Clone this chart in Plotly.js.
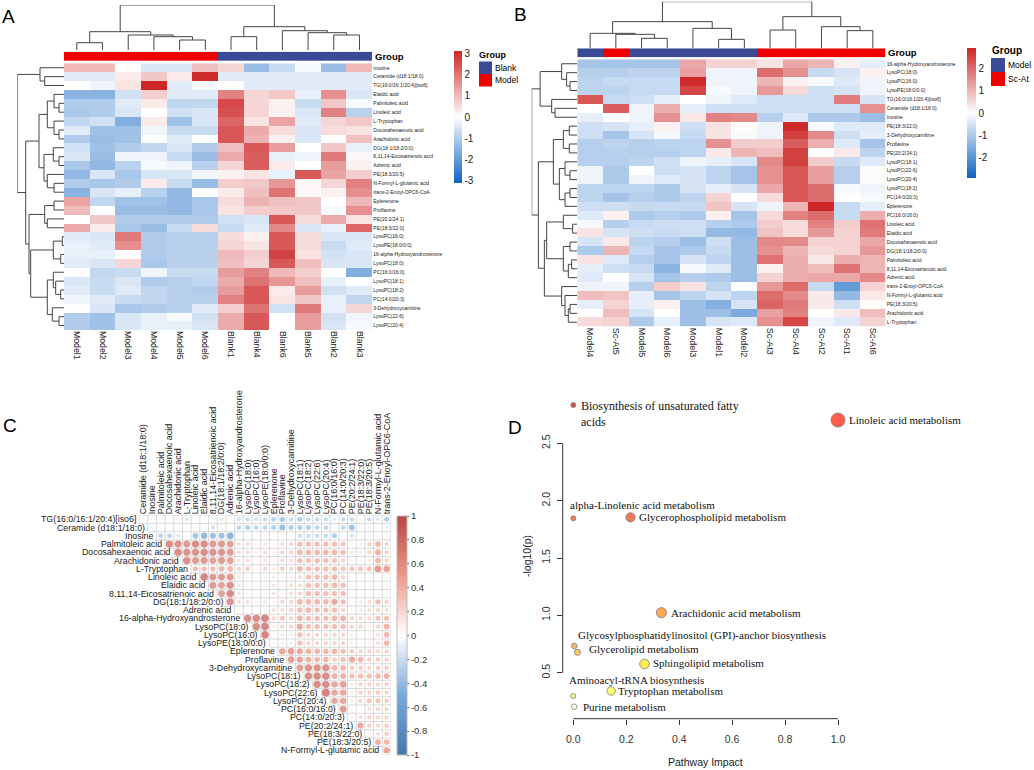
<!DOCTYPE html>
<html><head><meta charset="utf-8">
<script src="https://cdn.plot.ly/plotly-3.0.1.min.js"></script>
<style>html,body{margin:0;padding:0;background:#fff}#chart{width:1034px;height:770px}</style>
</head><body><div id="chart"></div>
<script>
// ================= DATA =================
// ---- Panel A : Blank vs Model heatmap ----
const aSamples = ['Model1','Model2','Model3','Model4','Model5','Model6','Blank1','Blank4','Blank6','Blank5','Blank2','Blank3'];
const aSampleGroups = ['Model','Model','Model','Model','Model','Model','Blank','Blank','Blank','Blank','Blank','Blank'];
const aGroupLevels = ['Blank','Model'];
const aMetabolites = ['Inosine','Ceramide (d18:1/18:0)','TG(16:0/16:1/20:4)[iso6]','Elaidic acid','Palmitoleic acid','Linoleic acid','L-Tryptophan','Docosahexaenoic acid','Arachidonic acid','DG(18:1/18:2/0:0)','8,11,14-Eicosatrienoic acid','Adrenic acid','PE(18:3/20:5)','N-Formyl-L-glutamic acid','trans-2-Enoyl-OPC6-CoA','Eplerenone','Proflavine','PE(20:2/24:1)','PE(18:3/22:0)','LysoPC(16:0)','LysoPE(18:0/0:0)','16-alpha-Hydroxyandrosterone','LysoPC(18:0)','PC(16:0/16:0)','LysoPC(18:1)','LysoPC(18:2)','PC(14:0/20:3)','3-Dehydroxycarnitine','LysoPC(22:6)','LysoPC(20:4)'];
const aValues = [
 [1.0,1.0,0.05,-0.5,-0.5,0.9,0.6,-1.3,-0.7,-0.1,-1.3,1.0],
 [-0.4,-0.4,0.3,0.8,0.3,3.0,-0.4,-0.4,-0.4,-0.4,-0.4,-0.4],
 [0.0,-0.2,0.4,3.2,-0.4,-0.1,0.0,-0.4,-0.4,-0.4,-0.4,-0.4],
 [-1.5,-1.5,-0.6,0.7,-0.4,-0.4,1.8,0.6,0.8,-0.3,1.6,-0.5],
 [-1.0,-1.0,-0.4,0.3,-0.8,-0.8,2.6,0.6,0.2,-0.7,0.8,-0.1],
 [-1.1,-1.0,-0.5,0.0,-0.6,-0.5,2.5,0.6,0.2,-0.5,1.8,-0.9],
 [-0.8,-0.6,-1.6,0.3,-1.2,-0.5,2.2,0.4,1.3,-0.4,0.6,0.8],
 [-0.4,-1.2,-1.2,-0.2,-0.7,-0.7,2.4,1.2,0.5,-0.5,0.5,0.4],
 [-1.0,-1.3,-1.2,0.0,-0.4,0.0,2.4,1.1,0.2,-0.5,0.0,0.9],
 [-0.6,-1.2,-1.0,-0.8,-0.5,-1.0,0.9,2.4,1.4,0.0,0.8,-0.3],
 [-0.5,-1.3,-0.2,-0.2,-0.7,-1.3,1.2,2.3,-0.3,-0.2,1.9,0.1],
 [-1.1,-1.4,-0.9,-0.1,-0.2,-0.9,0.6,2.3,0.3,0.0,1.4,0.2],
 [-1.4,-0.5,-1.1,-0.5,-0.5,-0.2,0.2,0.4,-0.3,2.4,1.3,0.7],
 [-1.0,-1.1,-1.0,0.3,-0.7,-1.3,0.7,0.8,1.5,0.1,0.6,1.8],
 [-1.5,-0.5,-0.3,-0.9,-1.4,0.0,0.3,0.9,2.0,0.1,0.2,1.6],
 [1.3,-0.8,-1.2,-1.2,-1.4,-1.1,0.5,1.1,0.9,0.8,0.0,1.0],
 [1.0,0.0,-1.3,-1.3,-1.4,-1.1,0.4,0.7,0.8,0.8,-0.1,1.6],
 [0.0,0.8,-1.0,-1.0,-1.0,-1.0,-0.6,-0.5,2.4,0.5,1.2,0.4],
 [1.2,0.3,-1.1,-1.3,-0.7,0.5,-0.7,-0.4,1.7,-0.5,-0.3,2.2],
 [-0.4,-0.5,1.9,-1.0,-0.9,-0.9,0.5,0.2,2.4,0.5,-0.5,-0.5],
 [-0.3,-0.4,1.6,-1.0,-0.9,-0.9,0.6,0.4,2.4,0.5,-0.7,-0.4],
 [-0.3,-0.3,0.0,-1.0,-0.9,-0.9,1.0,0.7,2.7,0.4,-0.6,-0.5],
 [-0.4,-0.5,0.6,-1.1,-0.9,-0.9,0.9,0.6,2.4,0.9,-0.5,-0.5],
 [0.05,-0.8,-0.7,-0.2,-0.7,-0.7,1.4,1.8,1.0,0.7,0.0,-1.6],
 [-0.5,-0.7,-0.5,-1.0,-0.9,-0.8,1.2,2.0,1.5,0.9,-0.3,0.0],
 [-0.4,-0.7,-0.4,-0.8,-0.9,-1.0,1.4,2.4,0.3,1.4,-0.6,-0.4],
 [-0.2,-0.4,-0.7,-0.8,-0.9,-0.9,1.8,2.4,0.4,0.8,-0.3,-0.8],
 [0.05,-0.5,-1.1,-1.0,-0.9,-0.4,0.7,2.0,-0.6,1.9,-0.3,0.6],
 [-1.0,-1.2,-0.5,-0.3,-0.1,-0.6,1.2,2.4,0.0,1.4,-0.6,-0.2],
 [-1.0,-1.2,-0.5,-0.3,-0.3,-0.5,1.2,2.4,0.0,1.4,-0.5,-0.1]
];
// dendrograms: node = leaf index | [left, right, mergeHeight]
const aColTree = [[[0,1,7.3],[2,[3,[4,5,10],13.3],15],18.3],[[6,7,13.3],[8,[9,[10,11,15],17.3],19.3],23.3],45];
const aRowTree = [[0,[1,2,19.3],24],
  [[[[3,[4,5,5],10],[6,[7,8,5],10],16.7],[[9,[10,11,5],10.7],[12,[13,14,10],16.7],20],25],
   [[[15,16,10],[17,18,16.7],19.3],[[[19,20,1.7],[21,22,3.3],10.7],[[23,[24,[25,26,3.3],8.3],10.7],[27,[28,29,5],11.7],16.7],33.3],35],38.3],46.7];

// ---- Panel B : Model vs Sc-At heatmap ----
const bSamples = ['Model4','Sc-At5','Model5','Model6','Model3','Model1','Model2','Sc-At3','Sc-At4','Sc-At2','Sc-At1','Sc-At6'];
const bSampleGroups = ['Model','Sc-At','Model','Model','Model','Model','Model','Sc-At','Sc-At','Sc-At','Sc-At','Sc-At'];
const bGroupLevels = ['Model','Sc-At'];
const bMetabolites = ['16-alpha-Hydroxyandrosterone','LysoPC(18:0)','LysoPC(16:0)','LysoPE(18:0/0:0)','TG(16:0/16:1/20:4)[iso6]','Ceramide (d18:1/18:0)','Inosine','PE(18:3/22:0)','3-Dehydroxycarnitine','Proflavine','PE(20:2/24:1)','LysoPC(18:1)','LysoPC(22:6)','LysoPC(20:4)','LysoPC(18:2)','PC(14:0/20:3)','Eplerenone','PC(16:0/16:0)','Linoleic acid','Elaidic acid','Docosahexaenoic acid','DG(18:1/18:2/0:0)','Palmitoleic acid','8,11,14-Eicosatrienoic acid','Adrenic acid','trans-2-Enoyl-OPC6-CoA','N-Formyl-L-glutamic acid','PE(18:3/20:5)','Arachidonic acid','L-Tryptophan'];
const bValues = [
 [-1.1,-1.1,-1.1,-1.1,1.2,0.6,0.6,0.4,1.2,1.0,0.2,-0.3],
 [-0.9,-0.9,-0.8,-0.8,1.3,-0.2,-0.2,2.0,1.5,-0.7,-0.5,0.2],
 [-0.8,-0.7,-0.7,-0.7,2.9,-0.2,-0.2,1.0,0.2,-0.1,-0.4,-0.2],
 [-0.8,-0.8,-0.7,-0.7,2.5,-0.1,-0.2,1.4,0.5,-0.6,-0.5,-0.2],
 [2.3,-0.7,-0.6,-0.3,0.0,-0.2,-0.4,-0.6,-0.6,-0.6,1.8,-0.5],
 [0.0,2.2,-0.2,1.1,-0.3,-0.6,-0.6,-0.6,-0.6,-0.6,-0.6,1.5],
 [-0.3,0.0,-0.2,1.5,0.3,1.7,1.6,-0.9,-0.4,-1.0,-1.0,-1.2],
 [-0.6,-0.5,-0.3,0.2,-0.6,0.4,0.05,-0.2,2.9,-0.1,-0.4,-0.4],
 [-0.6,-1.1,-0.5,-0.1,-0.7,0.4,-0.1,-0.2,2.6,1.6,-0.6,-0.3],
 [-0.9,-0.8,-0.9,-0.8,-0.8,1.5,0.7,0.7,2.2,1.1,-0.4,-1.1],
 [-0.9,-0.9,-0.9,-0.9,-0.8,0.3,1.0,0.9,2.6,0.0,0.3,-0.8],
 [-0.9,-0.9,-0.8,-0.6,-0.2,-0.3,-0.5,1.6,2.6,0.7,-0.7,-0.4],
 [-0.2,-1.0,0.0,-0.6,-0.5,-0.8,-1.1,1.5,2.3,1.3,-0.9,0.05],
 [-0.2,-1.0,-0.2,-0.4,-0.5,-0.8,-1.1,1.5,2.3,1.3,-0.9,0.05],
 [-0.8,-0.8,-0.8,-1.0,-0.5,-0.3,-0.5,1.2,2.3,2.0,-0.1,-0.2],
 [-0.8,-1.1,-0.9,-1.0,-0.8,0.6,0.0,0.5,2.3,2.0,0.0,-0.1],
 [-0.6,-0.6,-0.7,-0.7,-0.7,0.8,-0.5,-0.2,1.0,3.0,-0.7,-0.3],
 [-0.4,0.2,-1.0,-0.9,-1.0,0.2,-1.1,0.5,1.7,2.0,-0.7,1.1],
 [-0.1,-0.9,-0.7,-0.6,-0.6,-0.9,-1.0,0.7,0.5,1.7,0.7,1.9],
 [0.4,-0.5,-0.6,-0.7,-0.6,-1.3,-1.3,0.8,0.5,1.4,0.6,1.8],
 [-0.5,0.3,-0.8,-0.9,-1.2,-0.6,-1.2,1.6,1.6,0.6,0.6,1.2],
 [-1.0,1.0,-0.7,-1.1,-1.0,-0.7,-1.2,1.5,1.0,0.5,0.6,1.4],
 [0.4,-0.4,-0.9,-1.1,-0.5,-0.8,-1.2,1.9,1.1,0.3,1.1,1.0],
 [-0.3,-0.6,-0.7,-1.4,-0.1,-0.4,-1.2,0.2,1.1,0.9,1.9,1.0],
 [-0.4,0.0,-0.5,-1.1,-0.9,-1.0,-1.2,0.6,1.1,1.2,1.2,1.6],
 [-0.2,-0.2,-0.9,0.7,0.4,-0.8,0.0,1.4,2.0,-0.7,-1.9,0.6],
 [0.9,0.8,-0.3,-1.1,-0.8,-0.5,-0.8,2.0,1.6,0.3,-1.3,0.3],
 [-0.3,0.6,-0.3,0.2,-1.2,-1.5,-0.5,2.1,1.8,0.3,-0.6,0.05],
 [0.0,0.9,-0.5,0.0,-1.2,-1.2,-1.6,1.3,1.7,0.0,0.3,0.9],
 [0.5,0.6,-1.0,-0.3,-1.2,-0.5,-0.4,1.5,2.5,-0.2,-0.4,0.6]
];
const bColTree = [[[0,[1,[2,3,10],14],15],[4,[5,6,9],20],26.7],[[7,8,18.3],[9,[10,11,17.7],21.7],31.7],46.7];
const bRowTree = [[[0,[1,[2,3,7.3],10.7],15.7],[4,[5,6,22.3],25.7],37.3],
  [[[[7,8,8],[9,10,8],14],[[11,[12,13,7.3],12.3],[[14,15,7.3],16,12.3],18],24],
   [[[17,[18,19,4.7],14],[[20,21,7.3],[[22,23,5.7],24,9],14],30.7],[25,[26,[[27,28,7.3],29,9],12.3],15.7],33],39],45.7];

// ---- Panel C : correlation matrix (upper triangle, row i vs variables i+1..29) ----
const cVariables = ['TG(16:0/16:1/20:4)[iso6]','Ceramide (d18:1/18:0)','Inosine','Palmitoleic acid','Docosahexaenoic acid','Arachidonic acid','L-Tryptophan','Linoleic acid','Elaidic acid','8,11,14-Eicosatrienoic acid','DG(18:1/18:2/0:0)','Adrenic acid','16-alpha-Hydroxyandrosterone','LysoPC(18:0)','LysoPC(16:0)','LysoPE(18:0/0:0)','Eplerenone','Proflavine','3-Dehydroxycarnitine','LysoPC(18:1)','LysoPC(18:2)','LysoPC(22:6)','LysoPC(20:4)','PC(16:0/16:0)','PC(14:0/20:3)','PE(20:2/24:1)','PE(18:3/22:0)','PE(18:3/20:5)','N-Formyl-L-glutamic acid','trans-2-Enoyl-OPC6-CoA'];
const corrRows = [
 [0.05,0.05,0.1,0.05,0.1,-0.2,0.05,0.05,0.05,-0.2,0.05,-0.25,-0.3,-0.25,-0.3,-0.35,-0.45,-0.3,-0.4,-0.3,-0.3,-0.3,-0.2,-0.3,-0.3,0.05,-0.3,-0.2,-0.4],
 [-0.1,0.05,0.05,0.05,0.05,0.05,0.05,-0.25,0.05,0.05,-0.35,-0.4,-0.35,-0.35,-0.4,-0.55,-0.4,-0.4,-0.4,-0.35,-0.35,0.05,-0.35,-0.5,0.05,-0.1,0.05,-0.1],
 [-0.35,-0.35,-0.2,-0.1,-0.5,-0.65,-0.55,-0.55,-0.7,0.05,0.05,0.05,0.05,0.05,0.1,0.05,-0.3,-0.3,-0.3,-0.3,-0.4,0.05,-0.25,0.05,-0.1,-0.1,0.05],
 [0.85,0.8,0.75,0.85,0.85,0.75,0.75,0.7,0.25,0.25,0.1,0.2,0.1,0.25,0.3,0.45,0.45,0.45,0.45,0.45,0.4,0.1,0.15,0.3,0.5,0.3],
 [0.85,0.8,0.8,0.85,0.8,0.8,0.75,0.25,0.25,0.15,0.25,0.1,0.3,0.3,0.5,0.5,0.5,0.5,0.5,0.45,0.2,0.15,0.3,0.55,0.3],
 [0.85,0.75,0.75,0.7,0.75,0.7,0.2,0.25,0.1,0.2,0.1,0.25,0.25,0.45,0.45,0.45,0.45,0.4,0.3,0.1,0.1,0.15,0.5,0.3],
 [0.45,0.45,0.45,0.5,0.5,0.3,0.35,0.1,0.3,0.15,0.35,0.3,0.5,0.45,0.45,0.45,0.45,0.4,0.4,0.4,0.4,0.75,0.65],
 [0.9,0.75,0.75,0.75,0.2,0.1,0.05,0.1,0.2,0.1,0.15,0.25,0.45,0.45,0.45,0.5,0.3,0.05,0.05,0.05,0.05,0.05],
 [0.75,0.7,0.8,0.2,0.1,0.05,0.1,0.2,0.1,0.25,0.25,0.45,0.45,0.45,0.5,0.45,0.05,0.05,0.05,0.05,0.05],
 [0.7,0.85,0.2,0.1,0.05,0.1,0.2,0.1,0.25,0.3,0.45,0.45,0.45,0.45,0.45,0.05,0.05,0.05,0.05,0.05],
 [0.8,0.25,0.25,0.1,0.2,0.1,0.3,0.3,0.5,0.5,0.5,0.5,0.6,0.45,0.1,0.2,0.25,0.45,0.3],
 [0.1,0.1,0.05,0.1,0.25,0.25,0.3,0.45,0.5,0.45,0.45,0.45,0.3,0.1,0.2,0.25,0.3,0.25],
 [0.85,0.85,0.9,0.3,0.4,0.3,0.5,0.45,0.45,0.45,0.5,0.55,0.3,0.25,0.25,0.4,0.45],
 [0.85,0.9,0.15,0.3,0.3,0.6,0.45,0.45,0.45,0.45,0.45,0.3,0.3,0.1,0.3,0.55],
 [0.9,0.1,0.15,0.15,0.45,0.3,0.3,0.3,0.3,0.3,0.15,0.1,0.1,0.25,0.5],
 [0.1,0.15,0.15,0.45,0.3,0.3,0.3,0.3,0.3,0.15,0.1,0.1,0.25,0.5],
 [0.65,0.7,0.6,0.55,0.5,0.5,0.5,0.45,0.35,0.3,0.3,0.3,0.3],
 [0.7,0.65,0.55,0.5,0.5,0.35,0.45,0.6,0.5,0.35,0.35,0.3],
 [0.7,0.8,0.8,0.8,0.5,0.5,0.35,0.35,0.3,0.35,0.35],
 [0.85,0.85,0.85,0.55,0.55,0.45,0.45,0.45,0.5,0.55],
 [0.85,0.85,0.65,0.7,0.15,0.3,0.3,0.3,0.3],
 [0.95,0.65,0.65,0.15,0.3,0.3,0.35,0.3],
 [0.65,0.65,0.15,0.3,0.4,0.4,0.35],
 [0.75,0.1,0.05,0.25,0.3,0.3],
 [0.1,0.25,0.3,0.3,0.3],
 [0.6,0.3,0.3,0.35],
 [0.1,0.25,0.35],
 [0.55,0.5],
 [0.65]
];

// ---- Panel D : pathway analysis ----
const dPathways = ['Biosynthesis of unsaturated fatty<br>acids','Linoleic acid metabolism','alpha-Linolenic acid metabolism','Glycerophospholipid metabolism','Arachidonic acid metabolism','Glycosylphosphatidylinositol (GPI)-anchor biosynthesis','Glycerolipid metabolism','Sphingolipid metabolism','Aminoacyl-tRNA biosynthesis','Tryptophan metabolism','Purine metabolism'];
const dImpact = [0.0, 1.0, 0.0, 0.216, 0.333, 0.004, 0.016, 0.269, 0.0, 0.143, 0.003];
const dNegLogP = [2.834, 2.703, 1.846, 1.855, 1.023, 0.733, 0.678, 0.576, 0.297, 0.341, 0.204];
const dXTicks = [0, 0.2, 0.4, 0.6, 0.8, 1.0];
const dYTicks = [0.5, 1.0, 1.5, 2.0, 2.5];

// ================= DRAWING =================
const W = 1034, H = 770;
const px = v => v / W;
const py = v => 1 - v / H;
const xd = (a, b) => [a / W, b / W];
const yd = (top, bottom) => [1 - bottom / H, 1 - top / H];
const idx = n => Array.from({length: n}, (_, i) => i);
const SANS = 'Liberation Sans, Arial, sans-serif';
const SERIF = 'Liberation Serif, Times New Roman, serif';

function dendro(tree) {
  const leaf = [], height = [];
  (function walk(n) {
    if (typeof n === 'number') return {p: n, h: 0};
    const l = walk(n[0]), r = walk(n[1]), h = n[2];
    leaf.push(l.p, l.p, r.p, r.p, null);
    height.push(l.h, h, h, r.h, null);
    return {p: (l.p + r.p) / 2, h: h};
  })(tree);
  return {leaf, height};
}

const BLUE_G = '#3A4A96', RED_G = '#EE0000';
const hmScale = [[0, '#0D62C2'], [0.5, '#FFFFFF'], [1, '#CD2626']];
const dendroLine = {color: '#444', width: 1};

function heatPanel(o) {
  const traces = [];
  traces.push({type: 'heatmap', x: idx(o.samples.length), y: idx(o.metabolites.length), z: o.values,
    xaxis: o.xa, yaxis: o.ya, colorscale: hmScale, zmin: -o.zlim, zmax: o.zlim, hoverinfo: 'skip',
    colorbar: {x: px(o.cb[0]), xanchor: 'left', y: py(o.cb[1]), yanchor: 'top', len: o.cb[2], lenmode: 'pixels',
      thickness: o.cb[3], thicknessmode: 'pixels', outlinewidth: 0, xpad: 0, ypad: 0, ticks: '',
      tickvals: o.cbTicks, ticktext: o.cbTicks.map(String), tickfont: {family: SANS, size: 10, color: '#222'}}});
  traces.push({type: 'heatmap', x: idx(o.samples.length), y: [0],
    z: [o.groups.map(g => o.levels.indexOf(g))], xaxis: o.xa, yaxis: o.yg,
    colorscale: [[0, o.levelColors[0]], [0.5, o.levelColors[0]], [0.5, o.levelColors[1]], [1, o.levelColors[1]]],
    zmin: 0, zmax: 1, showscale: false, hoverinfo: 'skip'});
  const cd = dendro(o.colTree);
  traces.push({type: 'scatter', mode: 'lines', x: cd.leaf, y: cd.height, xaxis: o.xa, yaxis: o.yd,
    line: dendroLine, hoverinfo: 'skip', connectgaps: false});
  const rd = dendro(o.rowTree);
  traces.push({type: 'scatter', mode: 'lines', x: rd.height, y: rd.leaf, xaxis: o.xr, yaxis: o.ya,
    line: dendroLine, hoverinfo: 'skip', connectgaps: false});
  return traces;
}

const traces = [];
traces.push(...heatPanel({samples: aSamples, metabolites: aMetabolites, values: aValues, groups: aSampleGroups,
  levels: aGroupLevels, levelColors: [BLUE_G, RED_G], colTree: aColTree, rowTree: aRowTree,
  xa: 'x', ya: 'y', yg: 'y2', yd: 'y3', xr: 'x2', zlim: 3.1, cb: [454, 51, 132, 8], cbTicks: [3, 2, 1, 0, -1, -2, -3]}));
traces.push(...heatPanel({samples: bSamples, metabolites: bMetabolites, values: bValues, groups: bSampleGroups,
  levels: bGroupLevels, levelColors: [BLUE_G, RED_G], colTree: bColTree, rowTree: bRowTree,
  xa: 'x3', ya: 'y4', yg: 'y5', yd: 'y6', xr: 'x4', zlim: 2.95, cb: [967, 48, 130, 9], cbTicks: [2, 1, 0, -1, -2]}));

// ---- Panel C ----
const nC = cVariables.length - 1;  // 29 rows / 29 columns
const gx = [], gy = [];
for (let k = 0; k <= nC; k++) {            // vertical boundaries
  gx.push(k - 0.5, k - 0.5, null); gy.push(-0.5, Math.min(k, nC - 1) + 0.5, null);
}
for (let i = 0; i <= nC; i++) {            // horizontal boundaries
  gx.push(Math.max(i - 1, 0) - 0.5, nC - 0.5, null); gy.push(i - 0.5, i - 0.5, null);
}
traces.push({type: 'scatter', mode: 'lines', x: gx, y: gy, xaxis: 'x5', yaxis: 'y7',
  line: {color: '#D9D9D9', width: 1}, hoverinfo: 'skip'});
const cx = [], cy = [], cr = [];
corrRows.forEach((row, i) => row.forEach((r, k) => { cx.push(i + k); cy.push(i); cr.push(r); }));
traces.push({type: 'scatter', mode: 'markers', x: cx, y: cy, xaxis: 'x5', yaxis: 'y7', hoverinfo: 'skip',
  marker: {size: cr.map(r => 8 * Math.sqrt(Math.abs(r))), color: cr, cmin: -1, cmax: 1,
    colorscale: [[0, '#4477AA'], [0.25, '#77AADD'], [0.5, '#FFFFFF'], [0.75, '#EE9988'], [1, '#BB4444']],
    line: {width: 0}, showscale: true,
    colorbar: {x: px(397), xanchor: 'left', y: py(516), yanchor: 'top', len: 239, lenmode: 'pixels',
      thickness: 10, thicknessmode: 'pixels', outlinewidth: 1, outlinecolor: '#BBBBBB', xpad: 0, ypad: 0,
      ticks: 'outside', ticklen: 2, tickcolor: '#666',
      tickvals: [1, 0.8, 0.6, 0.4, 0.2, 0, -0.2, -0.4, -0.6, -0.8, -1],
      ticktext: ['1', '0.8', '0.6', '0.4', '0.2', '0', '-0.2', '-0.4', '-0.6', '-0.8', '-1'],
      tickfont: {family: SANS, size: 9.5, color: '#333'}}}});

// ---- Panel D ----
traces.push({type: 'scatter', mode: 'markers', x: dImpact, y: dNegLogP, xaxis: 'x6', yaxis: 'y8', cliponaxis: false,
  hoverinfo: 'skip',
  marker: {size: dImpact.map(v => 5 + 9 * Math.sqrt(v)), color: dNegLogP, cmin: 0.2, cmax: 2.84,
    colorscale: [[0, '#FFFFE0'], [0.053, '#FFFF33'], [0.14, '#FFE800'], [0.18, '#F8B428'], [0.2, '#F5A030'],
      [0.31, '#FF8000'], [0.63, '#F24014'], [0.95, '#FF1A00'], [1, '#D40000']],
    line: {color: '#444', width: 0.8}, showscale: false}});

// ---- annotations ----
const annotations = [];
function ann(x, y, text, font, extra) {
  annotations.push(Object.assign({xref: 'paper', yref: 'paper', x: px(x), y: py(y), text, showarrow: false,
    xanchor: 'left', yanchor: 'middle', font: Object.assign({family: SANS, color: '#000'}, font)}, extra || {}));
}
ann(0, 17, 'A', {size: 19});
ann(512, 14, 'B', {size: 19});
ann(1, 426, 'C', {size: 19});
ann(506, 427, 'D', {size: 19});
ann(373, 56.5, '<b>Group</b>', {size: 9.5});
ann(886, 52.5, '<b>Group</b>', {size: 9.5});
ann(477, 55, '<b>Group</b>', {size: 9});
ann(990, 51, '<b>Group</b>', {size: 10});

const shapes = [];
function legendBlock(levels, colors, x, y0, w, h, fs) {
  levels.forEach((lv, i) => {
    shapes.push({type: 'rect', xref: 'paper', yref: 'paper', x0: px(x), x1: px(x + w),
      y0: py(y0 + i * h), y1: py(y0 + (i + 1) * h), fillcolor: colors[i], line: {width: 0}});
    ann(x + w + 0.5, y0 + (i + 0.5) * h, lv, {size: fs});
  });
}
legendBlock(aGroupLevels, [BLUE_G, RED_G], 479, 61.5, 13, 12.5, 8.5);
legendBlock(bGroupLevels, [BLUE_G, RED_G], 991, 58, 14, 14, 8.5);

// Panel C row labels (staircase)
cVariables.slice(0, nC).forEach((name, i) => {
  annotations.push({xref: 'x5', yref: 'y7', x: i - 0.5, y: i, text: name, showarrow: false,
    xanchor: 'right', yanchor: 'middle', xshift: -1, font: {family: SANS, size: 8.8, color: '#222'}});
});

// Panel D point labels
const dLabelShift = [[6, -8.5], [9, 0], [-5, 13], [7, 0], [8, 0], [2, 10], [9, 3], [6, 1], [-6, 16], [5, 0], [7, 0]];
dPathways.forEach((name, i) => {
  annotations.push({xref: 'x6', yref: 'y8', x: dImpact[i], y: dNegLogP[i], text: name, showarrow: false,
    xanchor: 'left', yanchor: 'middle', align: 'left', xshift: dLabelShift[i][0], yshift: dLabelShift[i][1],
    font: {family: SERIF, size: i === 0 ? 12 : 11, color: '#111'}});
});
ann(527, 556, '-log10(p)', {size: 10.5, color: '#222'}, {xanchor: 'center', textangle: -90});
ann(705, 762, 'Pathway Impact', {size: 10.5, color: '#222'}, {xanchor: 'center'});

shapes.push({type: 'line', xref: 'x6 domain', yref: 'y8', x0: 0, x1: 0, y0: dYTicks[0], y1: dYTicks[dYTicks.length - 1],
  line: {color: '#333', width: 1}});
shapes.push({type: 'line', xref: 'x6', yref: 'y8 domain', x0: dXTicks[0], x1: dXTicks[dXTicks.length - 1], y0: 0, y1: 0,
  line: {color: '#333', width: 1}});

// ---- axes ----
const hide = {visible: false, showgrid: false, zeroline: false, fixedrange: true};
const base = {showgrid: false, zeroline: false, showline: false, ticks: '', fixedrange: true};
const layout = {
  width: W, height: H, margin: {l: 0, r: 0, t: 0, b: 0}, paper_bgcolor: '#fff', plot_bgcolor: 'rgba(0,0,0,0)',
  showlegend: false, font: {family: SANS, color: '#222'},
  // Panel A
  xaxis: Object.assign({}, base, {domain: xd(64, 372.3), range: [-0.5, 11.5], anchor: 'y', tickvals: idx(12),
    ticktext: aSamples, tickangle: 90, tickfont: {size: 8.7, color: '#222'}}),
  yaxis: Object.assign({}, base, {domain: yd(63.3, 330), range: [29.5, -0.5], anchor: 'x', side: 'right',
    tickvals: idx(30), ticktext: aMetabolites, tickfont: {size: 5, color: '#222'}}),
  yaxis2: Object.assign({}, hide, {domain: yd(51.7, 61), range: [-0.5, 0.5], anchor: 'x'}),
  yaxis3: Object.assign({}, hide, {domain: yd(5, 50), range: [0, 45], anchor: 'x'}),
  xaxis2: Object.assign({}, hide, {domain: xd(17.3, 64), range: [46.7, 0], anchor: 'y'}),
  // Panel B
  xaxis3: Object.assign({}, base, {domain: xd(577.3, 885.7), range: [-0.5, 11.5], anchor: 'y4', tickvals: idx(12),
    ticktext: bSamples, tickangle: 90, tickfont: {size: 9, color: '#222'}}),
  yaxis4: Object.assign({}, base, {domain: yd(59.3, 326.7), range: [29.5, -0.5], anchor: 'x3', side: 'right',
    tickvals: idx(30), ticktext: bMetabolites, tickfont: {size: 5, color: '#222'}}),
  yaxis5: Object.assign({}, hide, {domain: yd(48.3, 57.3), range: [-0.5, 0.5], anchor: 'x3'}),
  yaxis6: Object.assign({}, hide, {domain: yd(1.7, 48.3), range: [0, 46.7], anchor: 'x3'}),
  xaxis4: Object.assign({}, hide, {domain: xd(531.7, 577.3), range: [45.7, 0], anchor: 'y4'}),
  // Panel C
  xaxis5: Object.assign({}, base, {domain: xd(139, 391), range: [-0.5, nC - 0.5], anchor: 'y7', side: 'top',
    tickvals: idx(nC), ticktext: cVariables.slice(1), tickangle: -90, tickfont: {size: 9, color: '#222'}}),
  yaxis7: Object.assign({}, hide, {domain: yd(515.2, 754.5), range: [nC - 0.5, -0.5], anchor: 'x5'}),
  // Panel D
  xaxis6: Object.assign({}, base, {domain: xd(562.7, 848.6), range: [-0.04, 1.04], anchor: 'y8',
    tickvals: dXTicks, ticktext: dXTicks.map(v => v.toFixed(1)), ticks: 'outside', ticklen: 5, tickcolor: '#333',
    ticklabelstandoff: 6, tickfont: {size: 10.5, color: '#333'}}),
  yaxis8: Object.assign({}, base, {domain: yd(393, 718.7), range: [0.099, 2.939], anchor: 'x6',
    tickvals: dYTicks, ticktext: dYTicks.map(v => v.toFixed(1)), ticks: 'outside', ticklen: 5, tickcolor: '#333',
    tickangle: -90, ticklabelstandoff: 3, tickfont: {size: 10.5, color: '#333'}}),
  annotations, shapes
};

Plotly.newPlot('chart', traces, layout, {displayModeBar: false, staticPlot: true});
</script>
</body></html>
